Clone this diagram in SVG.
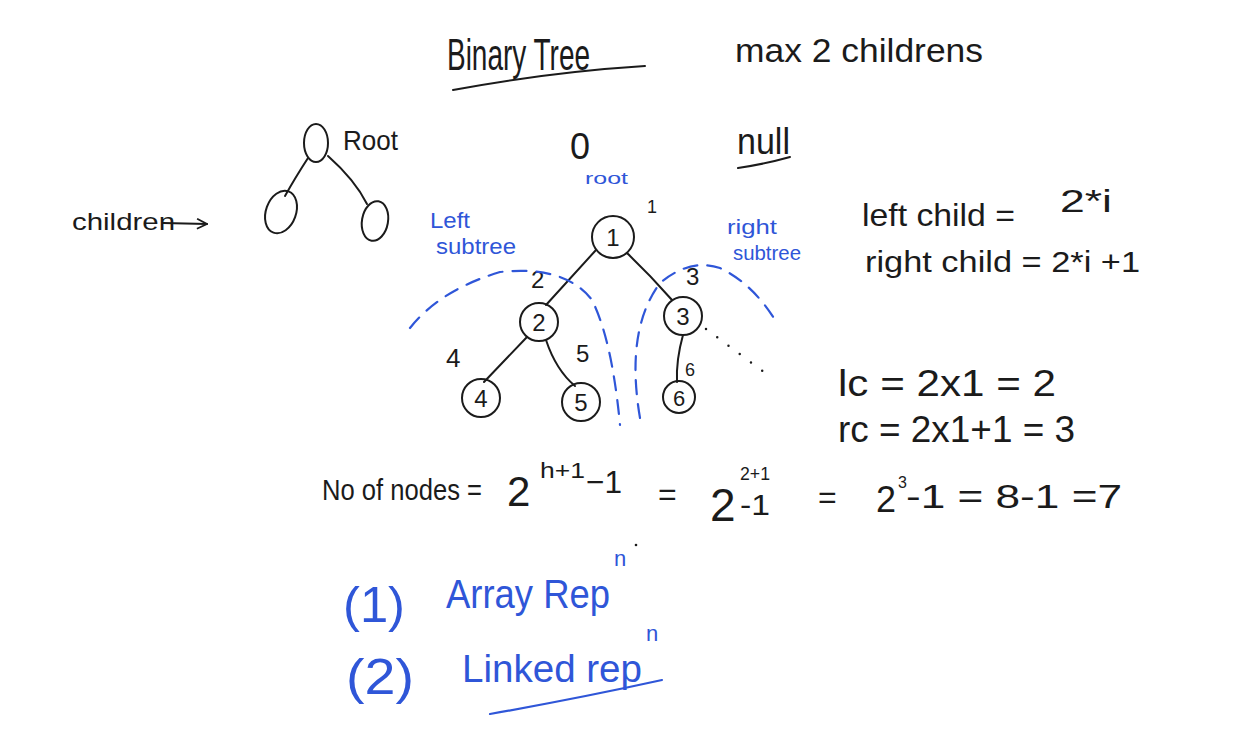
<svg xmlns="http://www.w3.org/2000/svg" width="1236" height="755" viewBox="0 0 1236 755">
<defs>
<style>
.k{fill:#1b1b1b;font-family:"Liberation Sans","DejaVu Sans",sans-serif}
.b{fill:#2f56d8;font-family:"Liberation Sans","DejaVu Sans",sans-serif}
.ln{fill:none;stroke:#1b1b1b;stroke-width:2;stroke-linecap:round}
.bl{fill:none;stroke:#2f56d8;stroke-width:2.2;stroke-linecap:round}
.nd{fill:none;stroke:#1b1b1b;stroke-width:2}
.dash{fill:none;stroke:#2f56d8;stroke-width:2.2;stroke-dasharray:14 10;stroke-linecap:round}
.dot{fill:none;stroke:#1b1b1b;stroke-width:2.5;stroke-dasharray:0 14;stroke-linecap:round}
</style>
<marker id="arr" viewBox="0 0 12 12" refX="11" refY="6" markerWidth="12" markerHeight="12" markerUnits="userSpaceOnUse" orient="auto">
<path d="M1,1 L11,6 L1,11" fill="none" stroke="#1b1b1b" stroke-width="1.8"/>
</marker>
</defs>
<rect width="1236" height="755" fill="#ffffff"/>

<!-- headings -->
<g id="title">
<text class="k" x="447" y="70" font-size="44" textLength="143" lengthAdjust="spacingAndGlyphs">Binary Tree</text>
<path class="ln" d="M453,90 Q550,72 645,66"/>
</g>
<text class="k" x="735" y="62" font-size="34" textLength="248" lengthAdjust="spacingAndGlyphs">max 2 childrens</text>
<text class="k" x="570" y="159" font-size="36">0</text>
<text class="b" x="585" y="184" font-size="16" textLength="43" lengthAdjust="spacingAndGlyphs">root</text>
<g id="null">
<text class="k" x="737" y="154" font-size="36" textLength="53" lengthAdjust="spacingAndGlyphs">null</text>
<path class="ln" d="M738,168 Q765,164 790,157"/>
</g>

<!-- small tree -->
<g id="small-root"><ellipse class="nd" cx="316" cy="143" rx="12" ry="19"/></g>
<text class="k" x="343" y="150" font-size="28" textLength="55" lengthAdjust="spacingAndGlyphs">Root</text>
<g id="small-left"><ellipse class="nd" cx="281" cy="212" rx="15" ry="22" transform="rotate(20 281 212)"/></g>
<g id="small-right"><ellipse class="nd" cx="375" cy="221" rx="13" ry="20" transform="rotate(10 375 221)"/></g>
<text class="k" x="72" y="230" font-size="24" textLength="103" lengthAdjust="spacingAndGlyphs">children</text>

<!-- main tree nodes -->
<g id="n1"><circle class="nd" cx="613" cy="237" r="21"/><text class="k" x="613" y="246" font-size="24" text-anchor="middle">1</text></g>
<g id="n2"><circle class="nd" cx="539" cy="322" r="19"/><text class="k" x="539" y="331" font-size="24" text-anchor="middle">2</text></g>
<g id="n3"><circle class="nd" cx="683" cy="316" r="19"/><text class="k" x="683" y="325" font-size="24" text-anchor="middle">3</text></g>
<g id="n4"><circle class="nd" cx="481" cy="398" r="19"/><text class="k" x="481" y="407" font-size="24" text-anchor="middle">4</text></g>
<g id="n5"><circle class="nd" cx="581" cy="402" r="19"/><text class="k" x="581" y="411" font-size="24" text-anchor="middle">5</text></g>
<g id="n6"><circle class="nd" cx="679" cy="397" r="16"/><text class="k" x="679" y="406" font-size="22" text-anchor="middle">6</text></g>

<!-- index labels -->
<text class="k" x="647" y="213" font-size="18">1</text>
<text class="k" x="531" y="288" font-size="24">2</text>
<text class="k" x="686" y="285" font-size="24">3</text>
<text class="k" x="446" y="367" font-size="26">4</text>
<text class="k" x="576" y="362" font-size="24">5</text>
<text class="k" x="685" y="376" font-size="18">6</text>

<text class="b" x="430" y="228" font-size="22" textLength="40" lengthAdjust="spacingAndGlyphs">Left</text>
<text class="b" x="436" y="254" font-size="22" textLength="80" lengthAdjust="spacingAndGlyphs">subtree</text>
<text class="b" x="727" y="234" font-size="20" textLength="50" lengthAdjust="spacingAndGlyphs">right</text>
<text class="b" x="733" y="260" font-size="20" textLength="68" lengthAdjust="spacingAndGlyphs">subtree</text>

<!-- connectors -->
<g id="connectors">
<path class="ln" d="M308,158 Q295,178 285,196"/>
<path class="ln" d="M328,156 Q355,180 367,204"/>
<path class="ln" d="M163,223 L207,224" marker-end="url(#arr)"/>
<path class="ln" d="M596,250 L546,305"/>
<path class="ln" d="M627,253 Q650,275 672,300"/>
<path class="ln" d="M527,337 L484,382"/>
<path class="ln" d="M546,340 Q556,370 575,386"/>
<path class="ln" d="M683,335 Q676,360 677,382"/>
<path class="dot" d="M706,329 L772,378"/>
<path class="dash" d="M410,328 Q440,290 500,272 Q565,265 592,300 Q612,340 620,425"/>
<path class="dash" d="M640,418 Q625,330 660,283 Q690,258 720,268 Q755,285 778,325"/>
</g>

<!-- formulas right -->
<text class="k" x="862" y="226" font-size="32" textLength="153" lengthAdjust="spacingAndGlyphs">left child =</text>
<text class="k" x="1060" y="212" font-size="32" textLength="52" lengthAdjust="spacingAndGlyphs">2*i</text>
<text class="k" x="865" y="272" font-size="30" textLength="275" lengthAdjust="spacingAndGlyphs">right child = 2*i +1</text>
<text class="k" x="838" y="396" font-size="36" textLength="218" lengthAdjust="spacingAndGlyphs">lc =  2x1  = 2</text>
<text class="k" x="838" y="442" font-size="36" textLength="237" lengthAdjust="spacingAndGlyphs">rc = 2x1+1 = 3</text>

<!-- number of nodes -->
<g id="nodes-formula">
<text class="k" x="322" y="500" font-size="30" textLength="160" lengthAdjust="spacingAndGlyphs">No of nodes =</text>
<text class="k" x="507" y="506" font-size="42">2</text>
<text class="k" x="540" y="478" font-size="22" textLength="45" lengthAdjust="spacingAndGlyphs">h+1</text>
<text class="k" x="586" y="493" font-size="32" textLength="36" lengthAdjust="spacingAndGlyphs">−1</text>
<text class="k" x="658" y="505" font-size="32">=</text>
<text class="k" x="710" y="521" font-size="46">2</text>
<text class="k" x="740" y="480" font-size="19" textLength="30" lengthAdjust="spacingAndGlyphs">2+1</text>
<text class="k" x="740" y="515" font-size="30" textLength="30" lengthAdjust="spacingAndGlyphs">-1</text>
<text class="k" x="818" y="508" font-size="32">=</text>
<text class="k" x="876" y="512" font-size="36">2</text>
<text class="k" x="898" y="488" font-size="16">3</text>
<text class="k" x="906" y="508" font-size="34" textLength="216" lengthAdjust="spacingAndGlyphs">-1 =  8-1  =7</text>
</g>
<circle cx="636" cy="545" r="1.3" fill="#1b1b1b"/>

<!-- representations -->
<text class="b" x="343" y="622" font-size="50" textLength="62" lengthAdjust="spacingAndGlyphs">(1)</text>
<g id="array">
<text class="b" x="446" y="608" font-size="40" textLength="164" lengthAdjust="spacingAndGlyphs">Array Rep</text>
<text class="b" x="614" y="566" font-size="22">n</text>
</g>
<text class="b" x="346" y="694" font-size="50" textLength="68" lengthAdjust="spacingAndGlyphs">(2)</text>
<g id="linked">
<text class="b" x="462" y="682" font-size="38" textLength="180" lengthAdjust="spacingAndGlyphs">Linked rep</text>
<text class="b" x="646" y="641" font-size="22">n</text>
<path class="bl" d="M490,714 Q580,698 662,680"/>
</g>
</svg>
